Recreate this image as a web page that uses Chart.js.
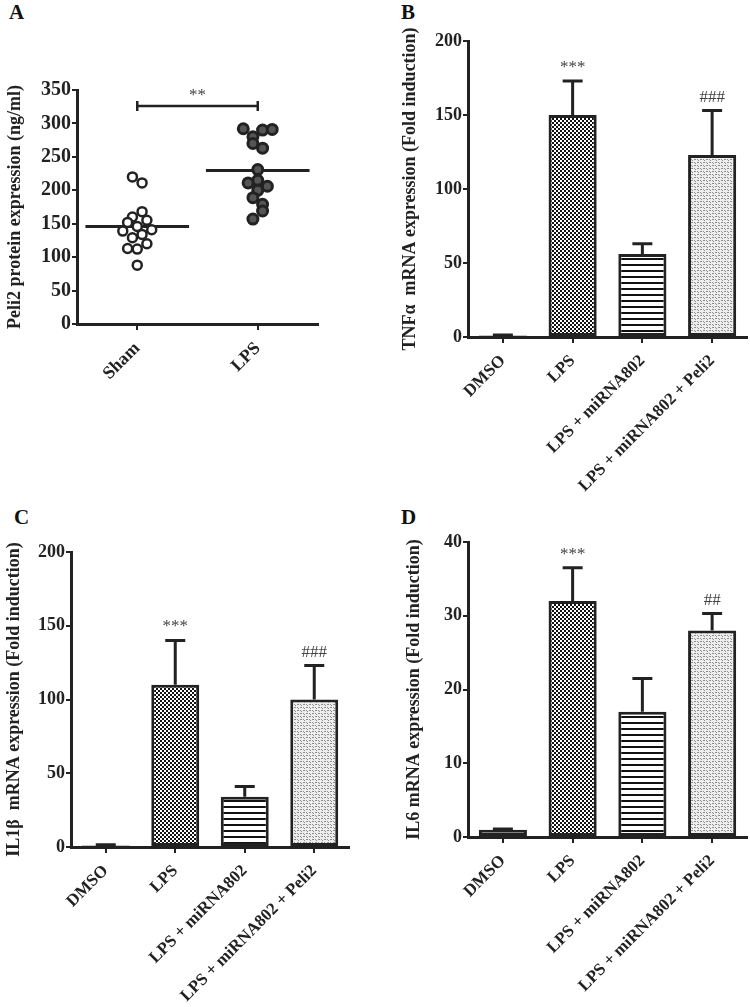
<!DOCTYPE html>
<html>
<head>
<meta charset="utf-8">
<script src="https://cdn.jsdelivr.net/npm/chart.js@4"></script>
<style>
  body { margin: 0; background: #fff; width: 750px; height: 1007px; position: relative; overflow: hidden; }
  .panel { position: absolute; }
  .tag { position: absolute; font: bold 21px "Liberation Serif", serif; color: #111; }
</style>
</head>
<body>
<div class="tag" style="left:9px;top:0px">A</div>
<div class="tag" style="left:401px;top:0px">B</div>
<div class="tag" style="left:14px;top:505px">C</div>
<div class="tag" style="left:401px;top:505px">D</div>

<div class="panel" style="left:0;top:0"><canvas id="cA" width="370" height="500"></canvas></div>
<div class="panel" style="left:370px;top:0"><canvas id="cB" width="380" height="500"></canvas></div>
<div class="panel" style="left:0;top:500px"><canvas id="cC" width="370" height="507"></canvas></div>
<div class="panel" style="left:370px;top:500px"><canvas id="cD" width="380" height="507"></canvas></div>

<script>
// Panel A data
var aCats = ['Sham', 'LPS'];
var shamVals = [220, 211, 168, 160, 152, 155, 146, 139, 141, 134, 129, 120, 113, 112, 88];
var shamJit = [-0.04, 0.04, 0.04, -0.04, -0.08, 0.08, 0, -0.12, 0.12, 0.04, -0.04, 0.08, -0.08, 0, 0];
var lpsVals = [292, 290, 291, 280, 270, 263, 231, 215, 211, 206, 200, 189, 179, 169, 157];
var lpsJit = [-0.12, 0.04, 0.12, -0.04, -0.04, 0.04, 0, 0, -0.08, 0.08, 0, -0.04, 0.04, 0.04, -0.04];
var bracketY = 326;

// Panels B, C, D data
var barCats = ['DMSO', 'LPS', 'LPS + miRNA802', 'LPS + miRNA802 + Peli2'];
var tnfVals = [1, 150, 56, 123];
var tnfErr = [0.3, 23, 7, 30];
var tnfMarks = ['', '***', '', '###'];
var il1bVals = [1, 110, 34, 100];
var il1bErr = [0.5, 30, 7, 23];
var il1bMarks = ['', '***', '', '###'];
var il6Vals = [1, 32, 17, 28];
var il6Err = [0.1, 4.5, 4.5, 2.3];
var il6Marks = ['', '***', '', '##'];

var ink = '#222';
var serif = '"Liberation Serif", "DejaVu Serif", serif';

function mean(arr) {
    var s = 0;
    for (var i = 0; i < arr.length; i++) s += arr[i];
    return s / arr.length;
}

//Patrones
function tile(w, h, draw) {
    var c = document.createElement('canvas');
    c.width = w; c.height = h;
    var x = c.getContext('2d');
    draw(x);
    return x.createPattern(c, 'repeat');
}
var checker = tile(4, 4, function (x) {
    x.fillStyle = '#fff'; x.fillRect(0, 0, 4, 4);
    x.fillStyle = '#111'; x.fillRect(0, 0, 2, 2); x.fillRect(2, 2, 2, 2);
});
var stripes = tile(4, 6, function (x) {
    x.fillStyle = '#fff'; x.fillRect(0, 0, 4, 6);
    x.fillStyle = '#111'; x.fillRect(0, 0, 4, 2);
});
var stipple = tile(6, 6, function (x) {
    x.fillStyle = '#eeeeee'; x.fillRect(0, 0, 6, 6);
    x.fillStyle = '#8c8c8c';
    x.fillRect(0, 0, 1, 1); x.fillRect(1, 1, 1, 1); x.fillRect(3, 0, 2, 1);
    x.fillRect(3, 3, 1, 1); x.fillRect(4, 4, 1, 1); x.fillRect(0, 3, 2, 1);
});
var barFills = ['#fff', checker, stripes, stipple];

// error bars + stars
var errorBars = {
    id: 'errorBars',
    afterDatasetsDraw: function (chart) {
        var ds = chart.data.datasets[0];
        if (!ds.errors) return;
        var meta = chart.getDatasetMeta(0);
        var y = chart.scales.y;
        var ctx = chart.ctx;
        ctx.save();
        ctx.strokeStyle = ink;
        ctx.lineWidth = 3;
        meta.data.forEach(function (bar, i) {
            var top = y.getPixelForValue(ds.data[i] + ds.errors[i]);
            ctx.beginPath();
            ctx.moveTo(bar.x, bar.y);
            ctx.lineTo(bar.x, top);
            ctx.moveTo(bar.x - 10, top);
            ctx.lineTo(bar.x + 10, top);
            ctx.stroke();
            if (ds.marks[i]) {
                ctx.fillStyle = '#444';
                ctx.font = '17px ' + serif;
                ctx.textAlign = 'center';
                ctx.textBaseline = 'bottom';
                ctx.fillText(ds.marks[i], bar.x, top - 5);
            }
        });
        ctx.restore();
    }
};

function axisY(max, step, title, width, fontSize, titleSize) {
    return {
        min: 0, max: max,
        ticks: { stepSize: step, color: ink, padding: 1, font: { family: serif, size: fontSize, weight: 'bold' } },
        grid: { drawOnChartArea: false, drawTicks: true, tickLength: 5, color: ink, lineWidth: 2 },
        border: { display: true, color: ink, width: 3 },
        title: { display: true, text: title, color: ink, padding: { top: 0, bottom: 3 }, font: { family: serif, size: titleSize, weight: 'bold' } },
        afterFit: function (s) { s.width = width; }
    };
}

function axisX(height, fontSize) {
    return {
        ticks: { color: ink, minRotation: 45, maxRotation: 45, autoSkip: false, padding: 8, font: { family: serif, size: fontSize, weight: 'bold' } },
        grid: { offset: false, drawOnChartArea: false, drawTicks: true, tickLength: 6, color: ink, lineWidth: 2 },
        border: { display: true, color: ink, width: 3 },
        afterFit: function (s) { s.height = height; }
    };
}

function makeBarChart(id, vals, errs, marks, max, step, title, pad, yWidth, xHeight) {
    return new Chart(document.getElementById(id), {
        type: 'bar',
        data: {
            labels: barCats,
            datasets: [{
                data: vals,
                errors: errs,
                marks: marks,
                backgroundColor: barFills,
                borderColor: ink,
                borderWidth: 3,
                borderSkipped: false,
                categoryPercentage: 1,
                barPercentage: 0.69
            }]
        },
        options: {
            responsive: false,
            animation: false,
            devicePixelRatio: 1,
            layout: { padding: pad },
            plugins: { legend: { display: false }, tooltip: { enabled: false } },
            scales: {
                x: axisX(xHeight, 17),
                y: axisY(max, step, title, yWidth, 18, 18)
            }
        },
        plugins: [errorBars]
    });
}

//Grafica A
var bracket = {
    id: 'bracket',
    afterDatasetsDraw: function (chart) {
        var x = chart.scales.x, y = chart.scales.y, ctx = chart.ctx;
        var x0 = x.getPixelForValue(0), x1 = x.getPixelForValue(1), yy = y.getPixelForValue(bracketY);
        ctx.save();
        ctx.strokeStyle = ink;
        ctx.lineWidth = 2.5;
        ctx.beginPath();
        ctx.moveTo(x0, yy); ctx.lineTo(x1, yy);
        ctx.moveTo(x0, yy - 5); ctx.lineTo(x0, yy + 5);
        ctx.moveTo(x1, yy - 5); ctx.lineTo(x1, yy + 5);
        ctx.stroke();
        ctx.fillStyle = '#444';
        ctx.font = '17px ' + serif;
        ctx.textAlign = 'center';
        ctx.textBaseline = 'bottom';
        ctx.fillText('**', (x0 + x1) / 2, yy - 2);
        ctx.restore();
    }
};

var shamPts = shamVals.map(function (v, i) { return { x: shamJit[i], y: v }; });
var lpsPts = lpsVals.map(function (v, i) { return { x: 1 + lpsJit[i], y: v }; });
var shamMean = mean(shamVals);
var lpsMean = mean(lpsVals);

var aX = axisX(176, 18);
aX.type = 'linear';
aX.min = -0.5;
aX.max = 1.5;
aX.ticks.callback = function (v) { return aCats[v]; };
aX.afterBuildTicks = function (s) { s.ticks = [{ value: 0 }, { value: 1 }]; };

var aY = axisY(350, 50, 'Peli2 protein expression (ng/ml)', 72, 20, 18);

new Chart(document.getElementById('cA'), {
    type: 'scatter',
    data: {
        datasets: [{
            data: shamPts,
            pointRadius: 4.5,
            pointBackgroundColor: '#fff',
            pointBorderColor: ink,
            pointBorderWidth: 2.5
        }, {
            data: lpsPts,
            pointRadius: 5,
            pointBackgroundColor: '#555',
            pointBorderColor: ink,
            pointBorderWidth: 3
        }, {
            type: 'line',
            data: [{ x: -0.43, y: shamMean }, { x: 0.43, y: shamMean }],
            borderColor: ink, borderWidth: 3, pointRadius: 0
        }, {
            type: 'line',
            data: [{ x: 0.57, y: lpsMean }, { x: 1.43, y: lpsMean }],
            borderColor: ink, borderWidth: 3, pointRadius: 0
        }]
    },
    options: {
        responsive: false,
        animation: false,
        devicePixelRatio: 1,
        layout: { padding: { left: 5, top: 90, right: 52, bottom: 0 } },
        plugins: { legend: { display: false }, tooltip: { enabled: false } },
        scales: { x: aX, y: aY }
    },
    plugins: [bracket]
});

//Graficas B, C, D
makeBarChart('cB', tnfVals, tnfErr, tnfMarks, 200, 50, 'TNF\u03b1  mRNA expression (Fold induction)',
    { left: 30, top: 41, right: 3, bottom: 0 }, 68, 163);
makeBarChart('cC', il1bVals, il1bErr, il1bMarks, 200, 50, 'IL1\u03b2  mRNA expression (Fold induction)',
    { left: 4, top: 52, right: 21, bottom: 0 }, 67, 160);
makeBarChart('cD', il6Vals, il6Err, il6Marks, 40, 10, 'IL6 mRNA expression (Fold induction)',
    { left: 34, top: 42, right: 3, bottom: 0 }, 64, 170);
</script>
</body>
</html>
